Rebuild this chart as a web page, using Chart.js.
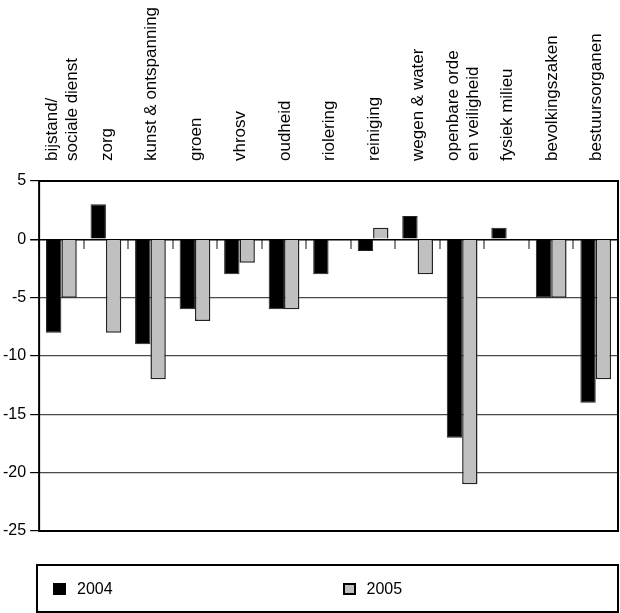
<!DOCTYPE html>
<html>
<head>
<meta charset="utf-8">
<script src="https://cdn.jsdelivr.net/npm/chart.js@4"></script>
<style>
  body { margin: 0; background: #fff; }
  #wrap { position: relative; width: 620px; height: 613px; }
  #legend {
    position: absolute; left: 36px; top: 564px; width: 583px; height: 49px;
    box-sizing: border-box; border: 2px solid #000; display: flex; align-items: center;
    font: 16px 'Liberation Sans', Arial, sans-serif; color: #000;
  }
  #legend .item { width: 50%; display: flex; align-items: center; padding-left: 15px; box-sizing: border-box; }
  #legend .sw { width: 13px; height: 12px; box-sizing: border-box; margin-right: 11px; }
</style>
</head>
<body>
<div id="wrap">
  <canvas id="bars" width="620" height="613"></canvas>
  <div id="legend"></div>
</div>
<script>
var categories = [
    ['bijstand/', 'sociale dienst'], 'zorg', 'kunst & ontspanning', 'groen', 'vhrosv',
    'oudheid', 'riolering', 'reiniging', 'wegen & water', ['openbare orde', 'en veiligheid'],
    'fysiek milieu', 'bevolkingszaken', 'bestuursorganen'
];
var values2004 = [-8, 3, -9, -6, -3, -6, -3, -1, 2, -17, 1, -5, -14];
var values2005 = [-5, -8, -12, -7, -2, -6, 0, 1, -3, -21, 0, -5, -12];
var yTicks = [5, 0, -5, -10, -15, -20, -25];

Chart.defaults.font.family = "'Liberation Sans', Arial, sans-serif";
Chart.defaults.font.size = 16;
Chart.defaults.color = '#000';

// box round the plot area
var frame = {
    id: 'frame',
    afterDraw: function (chart) {
        var a = chart.chartArea, c = chart.ctx;
        c.save();
        c.strokeStyle = '#000';
        c.lineWidth = 2;
        c.strokeRect(a.left, a.top, a.right - a.left, a.bottom - a.top);
        c.restore();
    }
};

var ctx = document.getElementById('bars').getContext('2d');
var chart = new Chart(ctx, {
    type: 'bar',
    data: {
        labels: categories,
        datasets: [{
            label: '2004',
            data: values2004,
            backgroundColor: '#000',
            borderColor: '#222',
            borderWidth: 1
        }, {
            label: '2005',
            data: values2005,
            backgroundColor: '#c0c0c0',
            borderColor: '#222',
            borderWidth: 1.5
        }]
    },
    options: {
        responsive: false,
        animation: false,
        categoryPercentage: 0.69,
        barPercentage: 1,
        layout: { padding: { left: 0, right: 2, top: 0, bottom: 82 } },
        plugins: { legend: { display: false }, tooltip: { enabled: false } },
        scales: {
            x: {
                position: 'top',
                grid: { display: false, drawTicks: false },
                border: { display: false },
                ticks: {
                    autoSkip: false, minRotation: 90, maxRotation: 90, padding: 20,
                    labelOffset: 31,
                    // line height per label so one- and two-line labels both sit centred
                    font: function (c) {
                        var two = Array.isArray(categories[c.index]);
                        return { size: 17, lineHeight: two ? '20px' : '30px' };
                    }
                },
                afterFit: function (scale) { scale.height = 181; }
            },
            x0: {
                type: 'category',
                position: { y: 0 },
                offset: true,
                grid: { display: true, offset: true, drawOnChartArea: false, tickLength: 10, color: '#888', lineWidth: 2 },
                border: { display: false },
                ticks: { display: false }
            },
            y: {
                min: -25,
                max: 5,
                afterBuildTicks: function (scale) {
                    scale.ticks = yTicks.map(function (v) { return { value: v }; });
                },
                grid: {
                    color: function (c) { return c.tick && c.tick.value === 0 ? '#000' : '#4a4a4a'; },
                    lineWidth: function (c) { return c.tick && c.tick.value === 0 ? 1.5 : 1.2; },
                    tickColor: '#000',
                    tickLength: 9
                },
                border: { display: false },
                ticks: { padding: 4 },
                afterFit: function (scale) { scale.width = 36; }
            }
        }
    },
    plugins: [frame]
});

// legend built from the chart's datasets
var legend = document.getElementById('legend');
chart.data.datasets.forEach(function (ds) {
    var item = document.createElement('div');
    item.className = 'item';
    var sw = document.createElement('span');
    sw.className = 'sw';
    sw.style.background = ds.backgroundColor;
    sw.style.border = '2px solid #000';
    item.appendChild(sw);
    item.appendChild(document.createTextNode(ds.label));
    legend.appendChild(item);
});
</script>
</body>
</html>
